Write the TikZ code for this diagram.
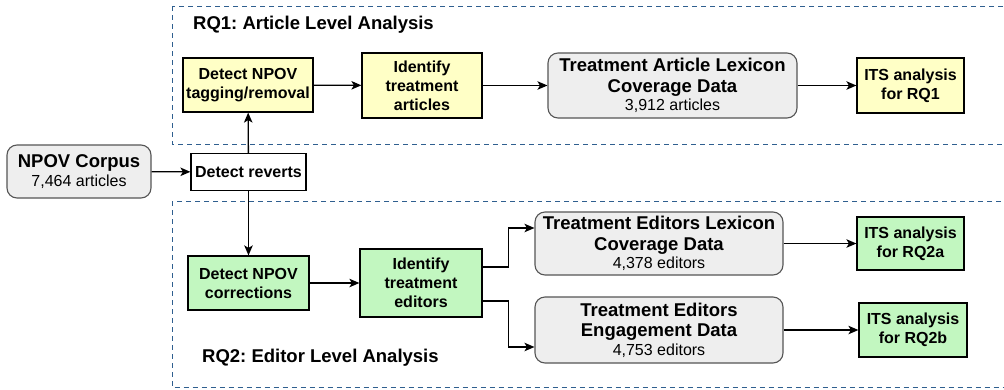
\documentclass[tikz,border=0pt]{standalone}
\usepackage{fontspec}
\setmainfont{Liberation Sans}
\usepackage{tikz}
\usetikzlibrary{arrows.meta}
\usetikzlibrary{calc}
\frenchspacing

\definecolor{stepyellow}{HTML}{FFFFC6}
\definecolor{stepgreen}{HTML}{C2F7C0}
\definecolor{datagray}{HTML}{EEEEEE}
\definecolor{datarim}{HTML}{555555}
\definecolor{rqblue}{HTML}{2F5F8F}

\newcommand{\countline}[1]{{\fontsize{16}{19}\selectfont\mdseries #1}}

\tikzset{
    stepbox/.style={draw=black, line width=1.2pt, inner sep=2pt, align=center,
        font=\fontsize{16}{19}\selectfont\bfseries},
    yellowbox/.style={stepbox, fill=stepyellow},
    greenbox/.style={stepbox, fill=stepgreen},
    databox/.style={draw=datarim, line width=1.1pt, fill=datagray, rounded corners=10pt,
        inner sep=1pt, align=center, font=\fontsize{18.5}{20.5}\selectfont\bfseries},
    rqframe/.style={draw=rqblue, line width=1pt, dash pattern=on 5pt off 4pt},
    rqlabel/.style={anchor=west, inner sep=0pt, font=\fontsize{18.5}{20}\selectfont\bfseries},
    flow/.style={->, line width=1.3pt, >={Stealth[length=10pt,width=8.5pt,inset=2.5pt]}}
}

\begin{document}
\begin{tikzpicture}[x=1pt, y=-1pt]
        \useasboundingbox (0,0) rectangle (1004,389);
        \clip (0,0) rectangle (1004,389);

        % research question frames
        \draw [rqframe] (172,6) rectangle (1012,144);
        \draw [rqframe] (172,201) rectangle (1012,387.5);
        \node [rqlabel] (rq1) at (193,25) {RQ1: Article Level Analysis};
        \node [rqlabel] (rq2) at (202,358) {RQ2: Editor Level Analysis};

        % input
        \node [databox, minimum width=144pt, minimum height=53pt] (corpus) at (79,171.5)
            {NPOV Corpus\\[-2pt]\countline{7,464 articles}};
        \node [stepbox, fill=white, minimum width=115pt, minimum height=37pt] (reverts) at (248.5,172) {Detect reverts};

        % article level
        \node [yellowbox, minimum width=130pt, minimum height=54pt] (tagging) at (248,85) {Detect NPOV\\tagging/removal};
        \node [yellowbox, minimum width=120pt, minimum height=65pt] (artident) at (422,85.5) {Identify\\treatment\\articles};
        \node [databox, minimum width=249pt, minimum height=65pt] (artdata) at (672.5,85.5)
            {Treatment Article Lexicon\\Coverage Data\\[-2pt]\countline{3,912 articles}};
        \node [yellowbox, minimum width=107pt, minimum height=55pt] (its1) at (910.5,85.5) {ITS analysis\\for RQ1};

        % editor level
        \node [greenbox, minimum width=121pt, minimum height=54pt] (corrections) at (248.5,283) {Detect NPOV\\corrections};
        \node [greenbox, minimum width=122pt, minimum height=68pt] (edident) at (421,283) {Identify\\treatment\\editors};
        \node [databox, minimum width=248pt, minimum height=63pt] (lexdata) at (659,243.5)
            {Treatment Editors Lexicon\\Coverage Data\\[-2pt]\countline{4,378 editors}};
        \node [databox, minimum width=248pt, minimum height=66pt] (engdata) at (659,330)
            {Treatment Editors\\Engagement Data\\[-2pt]\countline{4,753 editors}};
        \node [greenbox, minimum width=107pt, minimum height=53pt] (its2a) at (910.5,243.5) {ITS analysis\\for RQ2a};
        \node [greenbox, minimum width=108pt, minimum height=54pt] (its2b) at (913,330) {ITS analysis\\for RQ2b};

        % connectors
        \draw [flow] (corpus) -- (reverts);
        \draw [flow] (reverts) -- (tagging);
        \draw [flow] (reverts) -- (corrections);
        \draw [flow] (tagging) -- (artident);
        \draw [flow] (artident) -- (artdata);
        \draw [flow] (artdata) -- (its1);
        \draw [flow] (corrections) -- (edident);
        \draw [flow] ([yshift=16pt]edident.east) -- ++(26,0) |- ([yshift=15.5pt]lexdata.west);
        \draw [flow] ([yshift=-18pt]edident.east) -- ++(26,0) |- ([yshift=-17pt]engdata.west);
        \draw [flow] (lexdata) -- (its2a);
        \draw [flow] (engdata) -- (its2b);
    \end{tikzpicture}
\end{document}
